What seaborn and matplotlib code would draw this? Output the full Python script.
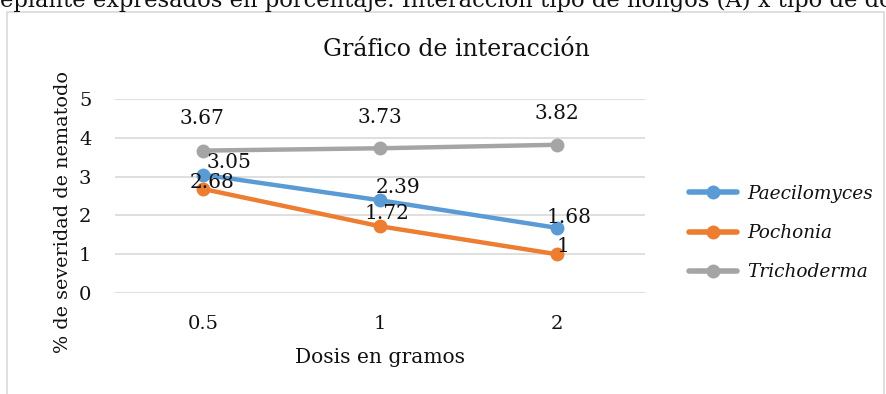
import matplotlib
matplotlib.use("Agg")
import matplotlib.pyplot as plt
import pandas as pd
import seaborn as sns
from matplotlib.patches import Rectangle

# data
dosis = ["0.5", "1", "2"]
paecilomyces = [3.05, 2.39, 1.68]
pochonia = [2.68, 1.72, 1]
trichoderma = [3.67, 3.73, 3.82]
hongos = ["Paecilomyces", "Pochonia", "Trichoderma"]
colores = ["#5B9BD5", "#ED7D31", "#A5A5A5"]

# where each data label sits relative to its point (pixels: right, up)
label_offsets = [
    [(26, 12), (18, 13), (12, 10)],
    [(9, 7), (7, 13), (6, 8)],
    [(-1, 32), (0, 31), (0, 31)],
]

df = pd.DataFrame({
    "dosis": dosis * 3,
    "valor": paecilomyces + pochonia + trichoderma,
    "hongo": [h for h in hongos for _ in dosis],
})

sns.set_style("white")
plt.rcParams["font.family"] = ["DejaVu Serif"]
txt = "#111111"

fig = plt.figure(figsize=(8.86, 3.94), dpi=100)
ax = fig.add_axes([115 / 886, 1 - 293 / 394, 530 / 886, 194 / 394])

sns.lineplot(data=df, x="dosis", y="valor", hue="hongo", hue_order=hongos,
             palette=colores, marker="o", markersize=10, markeredgewidth=0,
             linewidth=3.2, sort=False, ax=ax, legend=True)

for serie, offs in zip([paecilomyces, pochonia, trichoderma], label_offsets):
    for i, (v, off) in enumerate(zip(serie, offs)):
        ax.annotate(f"{v:g}", (i, v), xytext=off, textcoords="offset pixels",
                    ha="center", va="center", fontsize=14.5, color=txt)

ax.set_xlim(-0.5, 2.5)
ax.set_ylim(0, 5)
ax.set_yticks(range(0, 6))
ax.yaxis.grid(True, color="#D9D9D9", linewidth=1.2)
ax.set_axisbelow(True)
for s in ax.spines.values():
    s.set_visible(False)
ax.tick_params(axis="both", length=0, labelsize=14, colors=txt)
ax.tick_params(axis="y", pad=17)
ax.tick_params(axis="x", pad=16)

ax.set_xlabel("Dosis en gramos", fontsize=14.6, color=txt, va="center")
ax.xaxis.set_label_coords(0.5, -0.335)
ax.set_ylabel("% de severidad de nematodo", fontsize=13.8, color=txt, va="center")
ax.yaxis.set_label_coords(-0.098, 0.418)

fig.text(456 / 886, 1 - 50 / 394, "Gráfico de interacción", fontsize=17,
         ha="center", va="center", color=txt)

handles, labels = ax.get_legend_handles_labels()
leg = ax.legend(handles, labels, loc="center left",
                bbox_to_anchor=(672 / 886, 1 - 233 / 394),
                bbox_transform=fig.transFigure, frameon=False,
                handlelength=2.6, handletextpad=0.55, labelspacing=1.15,
                prop={"family": "DejaVu Serif", "style": "italic", "size": 13.3})
for h in leg.legend_handles:
    h.set_linewidth(4)
for t in leg.get_texts():
    t.set_color(txt)

# outer chart frame and the cut-off caption above it
fig.patches.append(Rectangle((7 / 886, -0.05), 0.99, 1 - 12 / 394 + 0.05,
                             transform=fig.transFigure, fill=False,
                             edgecolor="#D9D9D9", linewidth=1.2))
fig.text(0.0, 1.0, "eplante expresados en porcentaje. Interacción tipo de hongos (A) x tipo de dosis",
         ha="left", va="center", fontsize=16.3, color=txt)

fig.savefig("out.png", dpi=100)
